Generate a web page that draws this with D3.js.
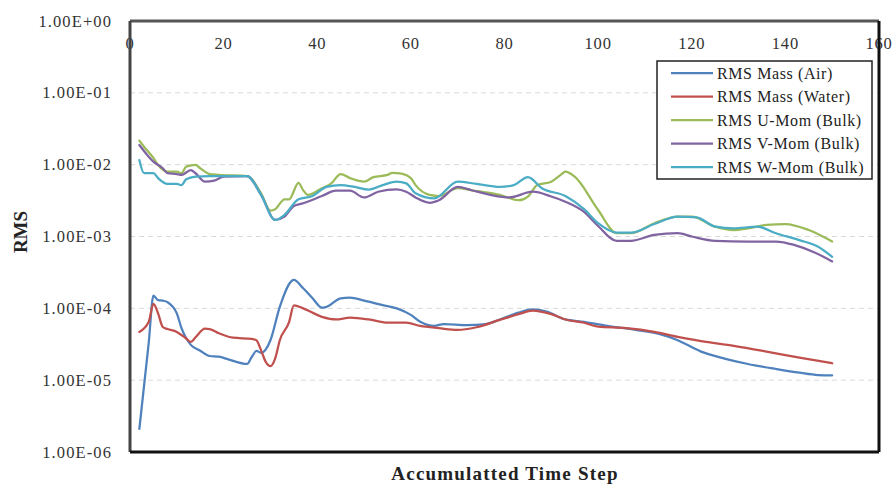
<!DOCTYPE html>
<html>
<head>
<meta charset="utf-8">
<script src="https://cdn.jsdelivr.net/npm/d3@7/dist/d3.min.js"></script>
<style>
  html, body { margin: 0; padding: 0; background: #fff; }
  #chart { width: 893px; height: 485px; }
  text { font-family: "Liberation Serif", "Times New Roman", serif; }
</style>
</head>
<body>
<div id="chart"></div>
<script>
// ---- data: [time step, RMS] ----
const massAir = [
  [2, 2.1e-6], [4, 3.3e-5], [5, 1.5e-4], [6, 1.3e-4], [7, 1.28e-4], [8, 1.22e-4],
  [10, 8.5e-5], [11, 5.3e-5], [13, 3.1e-5], [15, 2.57e-5], [17, 2.17e-5], [19, 2.12e-5],
  [21, 1.95e-5], [25, 1.68e-5], [26, 2.1e-5], [27, 2.55e-5], [28, 2.4e-5], [30, 3.6e-5],
  [32, 1.05e-4], [35, 2.48e-4], [37, 1.9e-4], [39, 1.38e-4], [41, 1.02e-4], [42, 1.05e-4],
  [45, 1.38e-4], [47, 1.41e-4], [50, 1.28e-4], [54, 1.11e-4], [57, 1.0e-4], [60, 8.1e-5],
  [62, 6.5e-5], [65, 5.7e-5], [67, 6.05e-5], [72, 5.86e-5], [76, 6.05e-5], [79, 7.0e-5],
  [83, 8.7e-5], [86, 9.7e-5], [89, 9.0e-5], [93, 7.0e-5], [97, 6.5e-5], [102, 5.7e-5],
  [108, 5.0e-5], [113, 4.4e-5], [117, 3.6e-5], [122, 2.5e-5], [127, 2.0e-5], [132, 1.68e-5],
  [138, 1.43e-5], [143, 1.27e-5], [147, 1.18e-5], [150, 1.17e-5]
];
const massWater = [
  [2, 4.7e-5], [4, 6.5e-5], [5, 1.15e-4], [6, 8.5e-5], [7, 5.5e-5], [8, 5.15e-5],
  [10, 4.7e-5], [12, 3.8e-5], [13, 3.4e-5], [14, 3.95e-5], [16, 5.2e-5], [17, 5.15e-5],
  [19, 4.5e-5], [22, 3.9e-5], [26, 3.75e-5], [27, 3.6e-5], [28, 2.6e-5], [29, 1.8e-5],
  [30, 1.57e-5], [31, 2.0e-5], [32, 3.6e-5], [34, 6.5e-5], [35, 1.1e-4], [37, 1.0e-4],
  [41, 7.6e-5], [44, 7.0e-5], [47, 7.4e-5], [51, 7.0e-5], [55, 6.3e-5], [59, 6.3e-5],
  [62, 5.7e-5], [66, 5.3e-5], [70, 5.0e-5], [74, 5.45e-5], [79, 6.9e-5], [83, 8.3e-5],
  [86, 9.3e-5], [90, 8.3e-5], [93, 7.0e-5], [97, 6.3e-5], [100, 5.55e-5], [106, 5.3e-5],
  [112, 4.7e-5], [117, 4.0e-5], [122, 3.5e-5], [129, 3.0e-5], [136, 2.5e-5], [143, 2.06e-5],
  [150, 1.72e-5]
];
const uMom = [
  [2, 2.16e-2], [3, 1.78e-2], [5, 1.24e-2], [6, 9.9e-3], [8, 8.0e-3], [10, 8.0e-3],
  [11, 7.6e-3], [12, 9.4e-3], [14, 9.9e-3], [15, 8.9e-3], [17, 7.4e-3], [19, 7.2e-3],
  [25, 6.95e-3], [28, 4.0e-3], [30, 2.3e-3], [31, 2.4e-3], [33, 3.3e-3], [34, 3.3e-3],
  [36, 5.6e-3], [37, 4.4e-3], [38, 3.8e-3], [41, 4.7e-3], [43, 5.5e-3], [45, 7.4e-3],
  [47, 6.5e-3], [50, 5.8e-3], [52, 6.7e-3], [55, 7.2e-3], [56, 7.7e-3], [58, 7.5e-3],
  [60, 6.5e-3], [61, 5.2e-3], [64, 3.8e-3], [66, 3.66e-3], [70, 4.7e-3], [73, 4.4e-3],
  [79, 3.8e-3], [83, 3.2e-3], [85, 3.6e-3], [87, 5.2e-3], [90, 5.8e-3], [92, 7.2e-3],
  [93, 8.0e-3], [95, 6.8e-3], [100, 2.34e-3], [104, 1.11e-3], [107, 1.11e-3], [112, 1.53e-3],
  [117, 1.89e-3], [120, 1.89e-3], [125, 1.37e-3], [129, 1.23e-3], [132, 1.3e-3], [136, 1.45e-3],
  [140, 1.49e-3], [145, 1.23e-3], [150, 8.5e-4]
];
const vMom = [
  [2, 1.88e-2], [4, 1.29e-2], [5, 1.1e-2], [7, 8.9e-3], [8, 7.6e-3], [10, 7.4e-3],
  [11, 7.2e-3], [13, 8.4e-3], [14, 7.6e-3], [16, 5.8e-3], [18, 6.0e-3], [20, 6.8e-3],
  [25, 6.95e-3], [28, 3.8e-3], [31, 1.7e-3], [33, 1.89e-3], [35, 2.66e-3], [37, 2.9e-3],
  [41, 3.66e-3], [44, 4.34e-3], [47, 4.34e-3], [50, 3.5e-3], [53, 4.2e-3], [57, 4.54e-3],
  [59, 4.2e-3], [61, 3.5e-3], [64, 2.95e-3], [66, 3.2e-3], [70, 4.9e-3], [73, 4.4e-3],
  [77, 3.8e-3], [81, 3.5e-3], [86, 4.2e-3], [90, 3.6e-3], [93, 3.05e-3], [97, 2.2e-3],
  [100, 1.4e-3], [104, 8.7e-4], [107, 8.7e-4], [112, 1.05e-3], [117, 1.11e-3], [120, 1.0e-3],
  [125, 8.7e-4], [132, 8.5e-4], [138, 8.5e-4], [142, 7.6e-4], [146, 6.1e-4], [150, 4.5e-4]
];
const wMom = [
  [2, 1.16e-2], [3, 7.6e-3], [5, 7.6e-3], [6, 6.5e-3], [8, 5.4e-3], [10, 5.4e-3],
  [11, 5.2e-3], [12, 6.25e-3], [14, 6.8e-3], [17, 6.95e-3], [25, 6.95e-3], [28, 3.8e-3],
  [31, 1.7e-3], [33, 2.0e-3], [36, 3.3e-3], [39, 3.66e-3], [42, 4.9e-3], [45, 5.2e-3],
  [48, 4.9e-3], [51, 4.5e-3], [54, 5.2e-3], [57, 5.8e-3], [59, 5.5e-3], [61, 4.0e-3],
  [65, 3.4e-3], [70, 5.8e-3], [74, 5.4e-3], [79, 4.9e-3], [82, 5.2e-3], [85, 6.7e-3],
  [88, 4.7e-3], [93, 3.66e-3], [97, 2.4e-3], [100, 1.53e-3], [104, 1.13e-3], [107, 1.13e-3],
  [112, 1.49e-3], [117, 1.89e-3], [121, 1.85e-3], [125, 1.37e-3], [129, 1.3e-3], [134, 1.37e-3],
  [138, 1.11e-3], [143, 8.9e-4], [147, 7.2e-4], [150, 5.2e-4]
];

const seriesNames = ['RMS Mass (Air)', 'RMS Mass (Water)', 'RMS U-Mom (Bulk)', 'RMS V-Mom (Bulk)', 'RMS W-Mom (Bulk)'];
const seriesColors = ['#4F81BD', '#C0504D', '#9BBB59', '#8064A2', '#4BACC6'];
const seriesData = [massAir, massWater, uMom, vMom, wMom];

const xTicks = [0, 20, 40, 60, 80, 100, 120, 140, 160];
const yTicks = [1, 1e-1, 1e-2, 1e-3, 1e-4, 1e-5, 1e-6];
const yTickLabels = ['1.00E+00', '1.00E-01', '1.00E-02', '1.00E-03', '1.00E-04', '1.00E-05', '1.00E-06'];

// ---- layout ----
const W = 893, H = 485;
const plot = { left: 130, right: 879, top: 21, bottom: 452 };

const svg = d3.select('#chart').append('svg')
  .attr('width', W).attr('height', H);

const x = d3.scaleLinear().domain([0, 160]).range([plot.left, plot.right]);
const y = d3.scaleLog().domain([1e-6, 1]).range([plot.bottom, plot.top]);

// gridlines
svg.append('g').selectAll('line')
  .data(yTicks.slice(1, -1))
  .enter().append('line')
  .attr('x1', plot.left).attr('x2', plot.right)
  .attr('y1', d => y(d)).attr('y2', d => y(d))
  .attr('stroke', '#d9d9d9')
  .attr('stroke-width', 1)
  .attr('stroke-dasharray', '5,4');

// y labels
svg.append('g').selectAll('text')
  .data(yTicks)
  .enter().append('text')
  .attr('x', 112)
  .attr('y', d => y(d))
  .attr('text-anchor', 'end')
  .attr('dominant-baseline', 'central')
  .style('font-size', '16.5px')
  .style('letter-spacing', '1.1px')
  .style('fill', '#333')
  .text((d, i) => yTickLabels[i]);

// lines
svg.append('defs').append('clipPath').attr('id', 'clip')
  .append('rect')
  .attr('x', plot.left).attr('y', plot.top)
  .attr('width', plot.right - plot.left).attr('height', plot.bottom - plot.top);

const line = d3.line()
  .x(d => x(d[0]))
  .y(d => y(d[1]))
  .curve(d3.curveMonotoneX);

const lines = svg.append('g').attr('clip-path', 'url(#clip)');
seriesData.forEach((s, i) => {
  lines.append('path')
    .datum(s)
    .attr('d', line)
    .attr('fill', 'none')
    .attr('stroke', seriesColors[i])
    .attr('stroke-width', 2.25)
    .attr('stroke-linejoin', 'round')
    .attr('stroke-linecap', 'round');
});

// x labels (top axis, labels drawn under the line)
svg.append('g').selectAll('text')
  .data(xTicks)
  .enter().append('text')
  .attr('x', d => x(d))
  .attr('y', 43)
  .attr('text-anchor', 'middle')
  .attr('dominant-baseline', 'central')
  .style('font-size', '16.5px')
  .style('letter-spacing', '0.8px')
  .style('fill', '#333')
  .text(d => d);

// plot frame
svg.append('line')
  .attr('x1', plot.left).attr('x2', plot.right)
  .attr('y1', plot.top).attr('y2', plot.top)
  .attr('stroke', '#555').attr('stroke-width', 3);
svg.append('line')
  .attr('x1', plot.left).attr('x2', plot.left)
  .attr('y1', plot.top).attr('y2', plot.bottom)
  .attr('stroke', '#444').attr('stroke-width', 3);
svg.append('line')
  .attr('x1', plot.left).attr('x2', plot.right)
  .attr('y1', plot.bottom).attr('y2', plot.bottom)
  .attr('stroke', '#111').attr('stroke-width', 3);
svg.append('line')
  .attr('x1', plot.right).attr('x2', plot.right)
  .attr('y1', plot.top).attr('y2', plot.bottom)
  .attr('stroke', '#111').attr('stroke-width', 3);

// axis titles
svg.append('text')
  .attr('transform', 'translate(20,232) rotate(-90)')
  .attr('text-anchor', 'middle')
  .attr('dominant-baseline', 'central')
  .style('font-size', '19px')
  .style('font-weight', 'bold')
  .style('fill', '#222')
  .text('RMS');

svg.append('text')
  .attr('x', 505).attr('y', 473)
  .attr('text-anchor', 'middle')
  .attr('dominant-baseline', 'central')
  .style('font-size', '19px')
  .style('font-weight', 'bold')
  .style('letter-spacing', '1.2px')
  .style('fill', '#222')
  .text('Accumulatted Time Step');

// legend
const legend = svg.append('g');
legend.append('rect')
  .attr('x', 657).attr('y', 61)
  .attr('width', 215).attr('height', 118)
  .attr('fill', '#fff')
  .attr('stroke', '#222')
  .attr('stroke-width', 1.5);

const legendRows = legend.selectAll('g.row')
  .data(seriesNames)
  .enter().append('g')
  .attr('class', 'row')
  .attr('transform', (d, i) => `translate(0,${73 + i * 23.5})`);

legendRows.append('line')
  .attr('x1', 671).attr('x2', 713)
  .attr('y1', 0).attr('y2', 0)
  .attr('stroke', (d, i) => seriesColors[i])
  .attr('stroke-width', 2.25);

legendRows.append('text')
  .attr('x', 717).attr('y', 0)
  .attr('dominant-baseline', 'central')
  .style('font-size', '16px')
  .style('letter-spacing', '0.6px')
  .style('fill', '#222')
  .text(d => d);
</script>
</body>
</html>
